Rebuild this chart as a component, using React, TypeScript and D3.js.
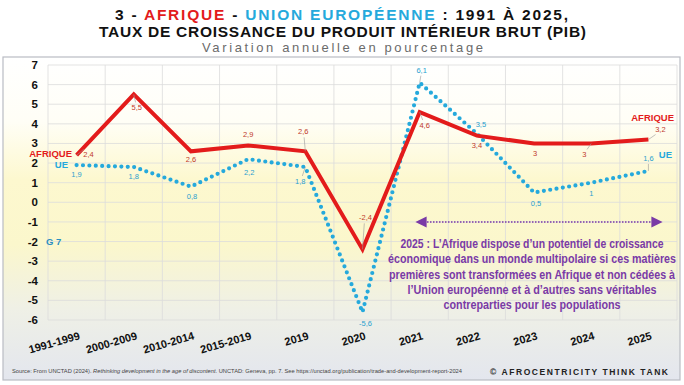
import React from 'react';
import * as d3 from 'd3';

// categories and values
const categories = ["1991-1999", "2000-2009", "2010-2014", "2015-2019", "2019", "2020", "2021", "2022", "2023", "2024", "2025"];
const afrique = [2.4, 5.5, 2.6, 2.9, 2.6, -2.4, 4.6, 3.4, 3, 3, 3.2];
const ue = [1.9, 1.8, 0.8, 2.2, 1.8, -5.6, 6.1, 3.5, 0.5, 1, 1.6];
const yTicks = d3.range(-6, 8);

const noteLines = [
    "2025 : L’Afrique dispose d’un potentiel de croissance",
    "économique dans un monde multipolaire si ces matières",
    "premières sont transformées en Afrique et non cédées à",
    "l’Union européenne et à d’autres sans véritables",
    "contreparties pour les populations",
];
const noteWidths = [263, 288, 286, 249, 177];

// label placement (dx, dy from the point, leader line or not)
const afriqueLabelPos = [[12, 2, 1], [3, 16, 1], [0, 11, 0], [0, -8, 0], [-2, -17, 1], [3, -29, 1], [5, 16, 1], [0, 12, 0], [1, 13, 0], [-7, 14, 1], [12, -8, 1]];
const ueLabelPos = [[0, 12, 0], [0, 12, 0], [1, 12, 0], [1, 16, 0], [-5, 17, 1], [3, 14, 0], [2, -10, 1], [4, -7, 0], [2, 13, 0], [0, 13, 0], [0, -10, 1]];

const red = "#e31b1b";
const blue = "#25a9dc";
const purple = "#7a3aa6";

const x0 = 48, x1 = 677, yTop = 65, yBottom = 320;
const noteScale = 0.78;

const fmt = (v: number) => String(v).replace(".", ",");

const App = () => {
    const x = d3.scaleBand().domain(categories).range([x0, x1]).padding(0);
    const y = d3.scaleLinear().domain([-6, 7]).range([yBottom, yTop]);
    const cx = (i: number) => (x(categories[i]) as number) + x.bandwidth() / 2;

    const line = d3.line<number>().x((d, i) => cx(i)).y((d) => y(d));

    const labels = (vals: number[], pos: number[][], color: string) =>
        vals.map((v, i) => {
            const px = cx(i), py = y(v);
            const [dx, dy, lead] = pos[i];
            return (
                <g key={i}>
                    {lead ? (
                        <line x1={px} y1={py} x2={px + dx * 0.6} y2={py + (dy > 0 ? dy - 8 : dy + 3)}
                            stroke="#999" strokeWidth={0.6} />
                    ) : null}
                    <text x={px + dx} y={py + dy} textAnchor="middle" fontSize={7.5} fill={color}>{fmt(v)}</text>
                </g>
            );
        });

    return (
        <svg width={684} height={385} style={{ position: "fixed", left: 0, top: 0 }}
            fontFamily="'Liberation Sans', Arial, sans-serif">
            <defs>
                <linearGradient id="bg" x1="0" y1="0" x2="0" y2="1">
                    <stop offset="0%" stopColor="#ffffff" />
                    <stop offset="20%" stopColor="#fffef6" />
                    <stop offset="38%" stopColor="#fdf8cf" />
                    <stop offset="58%" stopColor="#fbf7cc" />
                    <stop offset="78%" stopColor="#eff0e6" />
                    <stop offset="100%" stopColor="#e3e6ee" />
                </linearGradient>
                <marker id="arrR" viewBox="0 0 10 10" refX="5" refY="5" markerWidth="7" markerHeight="7" orient="auto">
                    <path d="M0,0 L10,5 L0,10 z" fill={purple} />
                </marker>
                <marker id="arrL" viewBox="0 0 10 10" refX="5" refY="5" markerWidth="7" markerHeight="7" orient="auto-start-reverse">
                    <path d="M0,0 L10,5 L0,10 z" fill={purple} />
                </marker>
            </defs>

            <rect width={684} height={385} fill="#fff" />
            {/* title */}
            <text x={115} y={20} fontSize={15.5} fontWeight="bold" fill="#111" textLength={453} lengthAdjust="spacing">
                3 - <tspan fill={red}>AFRIQUE</tspan> - <tspan fill={blue}>UNION EUROPÉENNE</tspan> : 1991 À 2025,
            </text>
            <text x={99} y={37} fontSize={15.5} fontWeight="bold" fill="#111" textLength={487} lengthAdjust="spacing">
                TAUX DE CROISSANCE DU PRODUIT INTÉRIEUR BRUT (PIB)
            </text>
            <text x={202} y={51.5} fontSize={13} fill="#6b6b6b" textLength={281} lengthAdjust="spacing">
                Variation annuelle en pourcentage
            </text>

            {/* panel */}
            <rect x={3} y={57} width={677} height={323} fill="url(#bg)" stroke="#b9bcc4" strokeWidth={1.2} />

            {/* grid */}
            {yTicks.map((t) => (
                <line key={t} x1={x0} x2={x1} y1={y(t)} y2={y(t)} stroke="#dcdcdc" strokeWidth={0.8} />
            ))}
            {d3.range(categories.length + 1).map((i) => {
                const gx = x0 + i * x.bandwidth();
                return <line key={i} x1={gx} x2={gx} y1={yTop} y2={yBottom} stroke="#dcdcdc" strokeWidth={0.8} />;
            })}

            {/* y axis labels */}
            {yTicks.map((t) => (
                <text key={t} x={38} y={y(t) + 4} textAnchor="end" fontSize={11.5} fontWeight="bold" fill="#111">{t}</text>
            ))}

            {/* x axis labels */}
            {categories.map((c, i) => (
                <text key={c} transform={`translate(${cx(i) + 4},${339}) rotate(-16)`} textAnchor="end"
                    fontSize={11} fontWeight="bold" fill="#111">{c}</text>
            ))}

            {/* series */}
            <path d={line(ue) as string} fill="none" stroke={blue} strokeWidth={4.2} strokeLinecap="round" strokeDasharray="0 6.4" />
            <path d={line(afrique) as string} fill="none" stroke={red} strokeWidth={4} strokeLinejoin="miter" />

            {labels(afrique, afriqueLabelPos, "#c0392b")}
            {labels(ue, ueLabelPos, "#2a9fcf")}

            {/* series names */}
            <text x={72} y={157} textAnchor="end" fontSize={9.5} fontWeight="bold" fill={red}>AFRIQUE</text>
            <text x={68} y={168} textAnchor="end" fontSize={9.5} fontWeight="bold" fill={blue}>UE</text>
            <text x={46} y={245} fontSize={9.5} fontWeight="bold" fill="#2a8fc0">G 7</text>
            <text x={674} y={121} textAnchor="end" fontSize={9.5} fontWeight="bold" fill={red}>AFRIQUE</text>
            <text x={672} y={158} textAnchor="end" fontSize={9.5} fontWeight="bold" fill={blue}>UE</text>

            {/* note */}
            <line x1={421} x2={657} y1={222} y2={222} stroke={purple} strokeWidth={1.6} strokeDasharray="1.5 1.5"
                markerStart="url(#arrL)" markerEnd="url(#arrR)" />
            <g transform={`translate(532,0) scale(${noteScale},1)`}>
                {noteLines.map((l, i) => (
                    <text key={i} x={0} y={248 + i * 15.3} textAnchor="middle" fontSize={12.5} fontWeight="bold"
                        fill={purple} textLength={noteWidths[i] / noteScale} lengthAdjust="spacingAndGlyphs">{l}</text>
                ))}
            </g>

            {/* footer */}
            <text x={12} y={373} fontSize={5.2} fill="#444" textLength={450} lengthAdjust="spacingAndGlyphs">
                Source: From UNCTAD (2024). <tspan fontStyle="italic">Rethinking development in the age of discontent</tspan>. UNCTAD: Geneva, pp. 7. See https://unctad.org/publication/trade-and-development-report-2024
            </text>
            <text x={490} y={375} fontSize={8.5} fontWeight="bold" fill="#222" textLength={178} lengthAdjust="spacing">
                © AFROCENTRICITY THINK TANK
            </text>
        </svg>
    );
};

export default App;
